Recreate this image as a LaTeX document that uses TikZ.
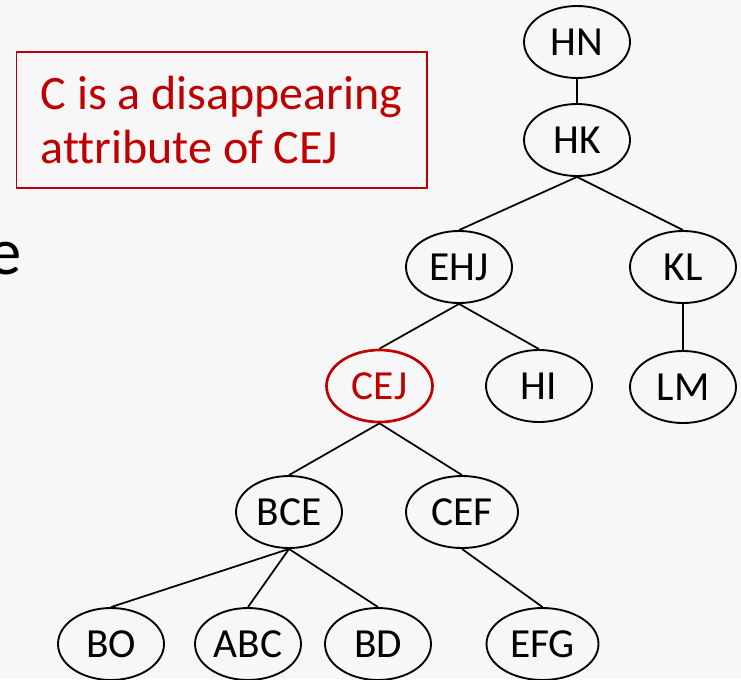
\documentclass[tikz,border=0pt]{standalone}
\usepackage{fontspec}
\setmainfont[Ligatures=NoCommon]{Carlito}
\usetikzlibrary{shapes.geometric}
\definecolor{slidered}{HTML}{C00000}
\definecolor{slidebg}{HTML}{F7F7F7}
\tikzset{
  attr/.style={draw, ellipse, line width=1.4pt, inner sep=0pt,
    minimum width=79.5pt, minimum height=54pt, font=\fontsize{31}{31}\selectfont},
  wide/.style={minimum width=84pt},
  edge/.style={line width=1.3pt},
}
\begin{document}
\begin{tikzpicture}[x=0.75pt, y=-0.75pt]
    \useasboundingbox (0,0) rectangle (741,679);
    \fill[slidebg] (0,0) rectangle (741,679);
    \node[anchor=base east, inner sep=0pt, font=\fontsize{50}{60}\selectfont] (stub) at (22,274) {e};
    \node[draw=slidered, line width=1pt, text=slidered, align=left,
          minimum width=308pt, minimum height=102pt,
          font=\fontsize{36}{41}\selectfont] (note) at (221.5,120)
          {C is a disappearing\\attribute of CEJ};
    % tree
    \node[attr] (hn) at (577,42) {HN};
    \node[attr] (hk) at (577,140) {HK};
    \node[attr] (ehj) at (459,267) {EHJ};
    \node[attr] (kl) at (683,267) {KL};
    \node[attr, draw=slidered, text=slidered, line width=2pt] (cej) at (379.5,386) {CEJ};
    \node[attr] (hi) at (539,386) {HI};
    \node[attr] (lm) at (683,387) {LM};
    \node[attr] (bce) at (289,512) {BCE};
    \node[attr, wide] (cef) at (462,512) {CEF};
    \node[attr] (bo) at (111,644) {BO};
    \node[attr] (abc) at (248,644) {ABC};
    \node[attr] (bd) at (378,644) {BD};
    \node[attr, wide] (efg) at (542.5,644) {EFG};
    \draw[edge] (hn) -- (hk);
    \draw[edge] (hk.south) -- (ehj.north);
    \draw[edge] (hk.south) -- (kl.north);
    \draw[edge] (kl) -- (lm);
    \draw[edge] (ehj.south) -- (cej.north);
    \draw[edge] (ehj.south) -- (hi.north);
    \draw[edge] (cej.south) -- (bce.north);
    \draw[edge] (cej.south) -- (cef.north);
    \draw[edge] (bce.south) -- (bo.north);
    \draw[edge] (bce.south) -- (abc.north);
    \draw[edge] (bce.south) -- (bd.north);
    \draw[edge] (cef.south) -- (efg.north);
\end{tikzpicture}
\end{document}
